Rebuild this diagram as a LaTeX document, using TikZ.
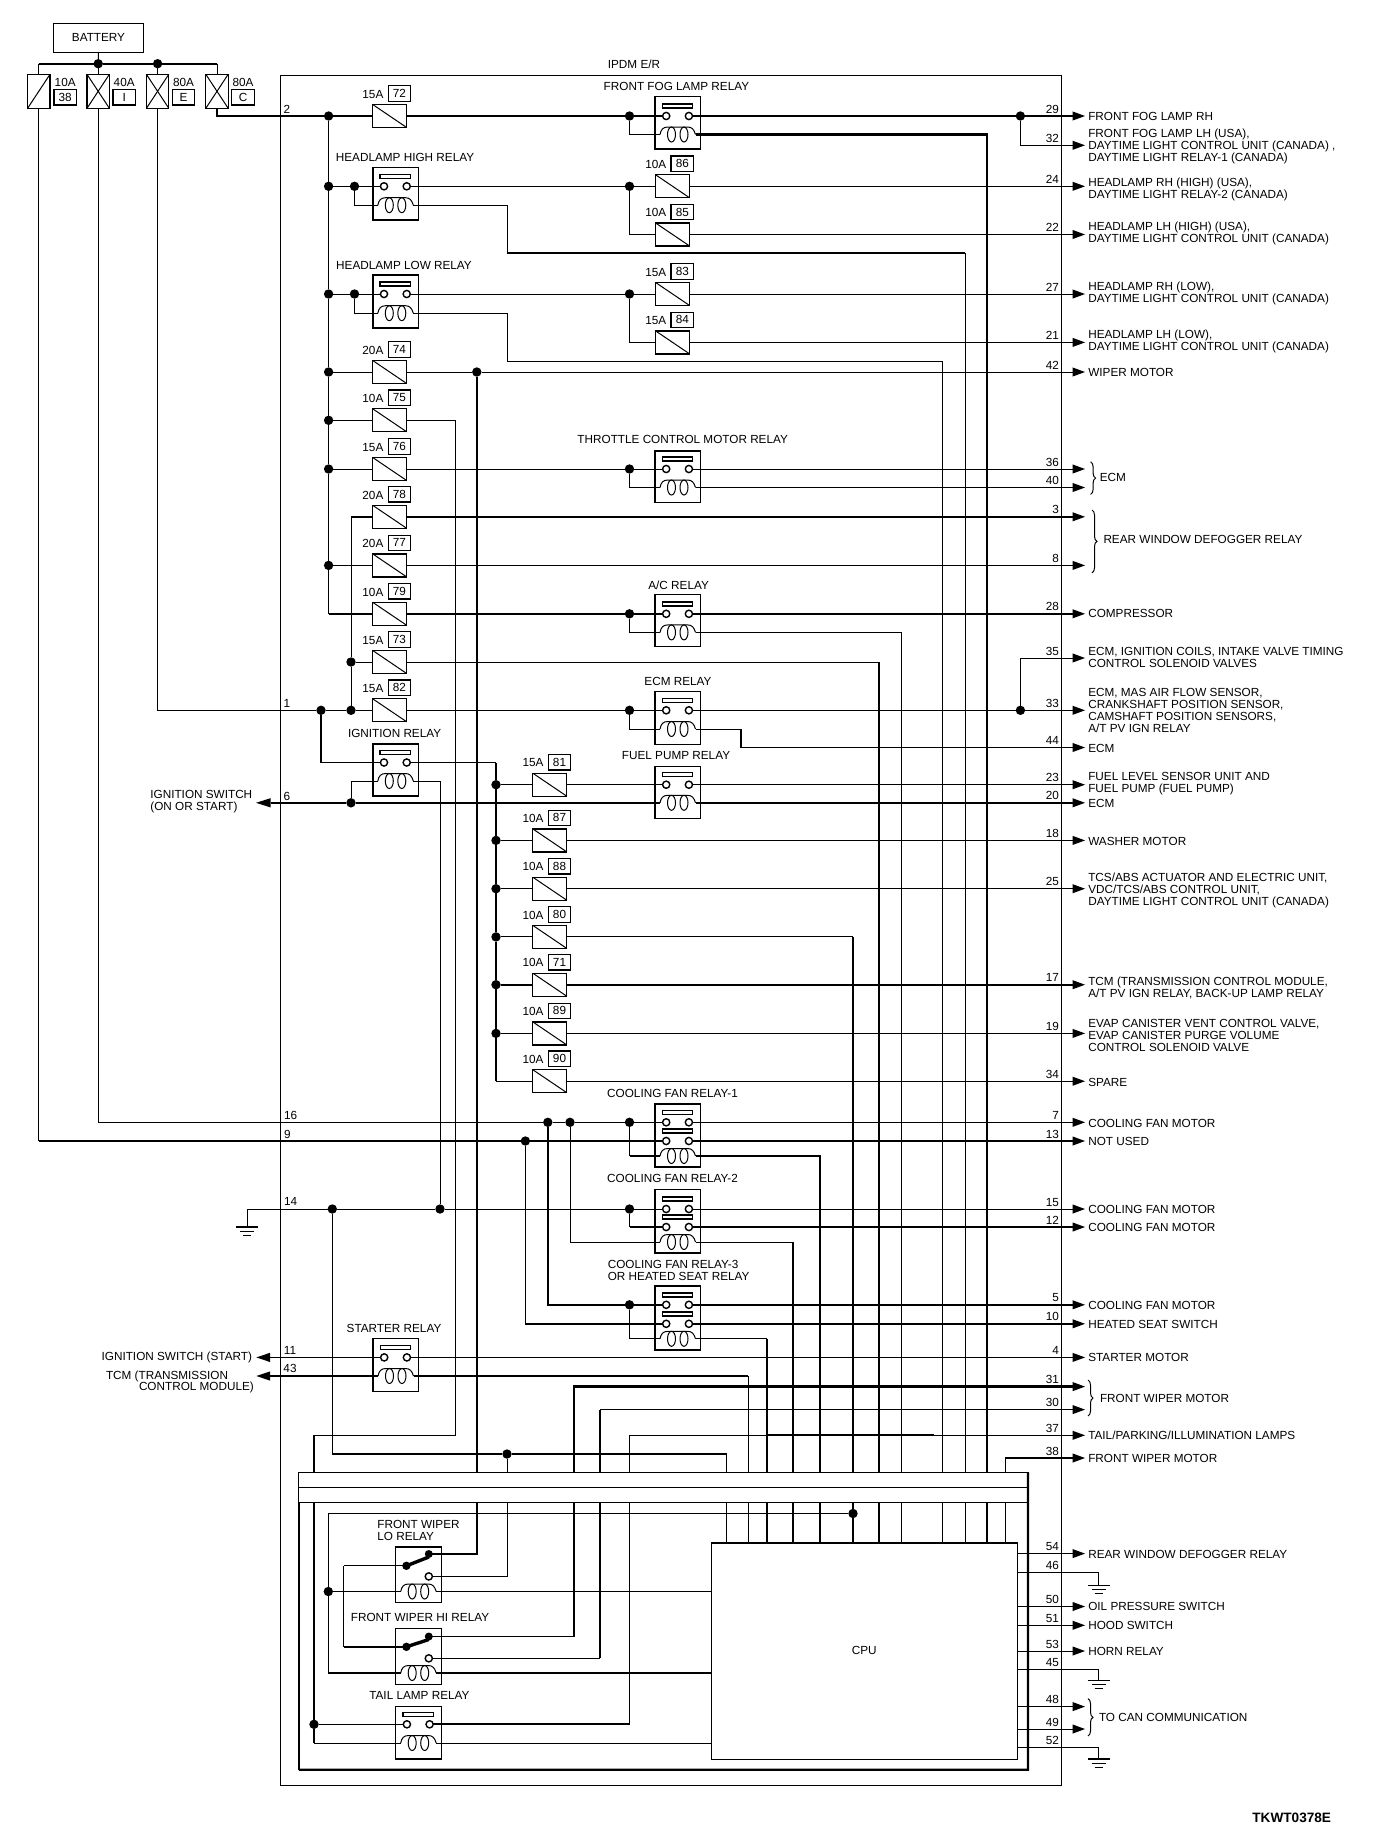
\documentclass[tikz,border=0pt]{standalone}
\usepackage{fontspec}
\setmainfont{Liberation Sans}
\usetikzlibrary{calc,decorations.pathreplacing}
\tikzset{
  thinw/.style={line width=1pt},
  medw/.style={line width=1.4pt},
  thickw/.style={line width=2.3pt},
  lab/.style={font=\fontsize{11.75}{12}\selectfont,inner sep=0,outer sep=0},
  ltext/.style={lab,align=left,anchor=west},
  jdot/.style={circle,fill=black,draw=none,minimum size=9.4pt,inner sep=0,outer sep=0},
  fusebox/.style={draw,line width=1.3pt,minimum width=34pt,minimum height=23pt,inner sep=0,outer sep=0},
  topfuse/.style={draw,line width=1.3pt,minimum width=22.4pt,minimum height=34pt,inner sep=0,outer sep=0},
  numbox/.style={draw,line width=1.3pt,minimum width=22.5pt,minimum height=15.5pt,inner sep=0,outer sep=0,font=\fontsize{11.75}{12}\selectfont},
  relaybox/.style={draw,medw,minimum width=45.5pt,inner sep=0,outer sep=0},
  bracew/.style={thinw,decorate,decoration={brace,amplitude=5pt}},
}
\newcommand\Txt[4]{\node[lab] (#1) at (#2,#3) {#4};}
\newcommand\Jn[3]{\node[jdot] (#1) at (#2,#3) {};}
\newcommand\Fuse[4]{% num,x,y,amp
  \node[fusebox] (f#1) at (#2,#3) {};
  \draw[thinw] (f#1.north west) -- (f#1.south east);
  \node[lab] (fa#1) at ({#2-16.8},{#3-21.8}) {#4};
  \node[numbox] (fn#1) at ({#2+9.7},{#3-22.5}) {#1};}
\newcommand\TopFuse[7]{% name,x,num,amp,crossed,labelx
  \node[topfuse] (#1) at (#2,91.3) {};
  \draw[thinw] (#1.south west) -- (#1.north east);
  #5
  \node[lab] (#1a) at (#6,82.6) {#4};
  \node[numbox] (#1n) at (#6,97.1) {#3};}
\newcommand\RelayBox[4]{\node[relaybox,minimum height={#4-#3}] (#1) at ({#2+22.75},{(#3+#4)/2}) {};}
\newcommand\RelayCoil[3]{%
  \begin{scope}[shift={(#2,#3)}]
    \draw[thinw] (5,0) .. controls (6,-5) and (8,-7.5) .. (13,-7.5) -- (32.5,-7.5) .. controls (37,-7.5) and (39,-5) .. (40.5,0);
    \draw[thinw] (16.5,0) ellipse [x radius=4,y radius=7.5];
    \draw[thinw] (29,0) ellipse [x radius=4,y radius=7.5];
  \end{scope}
  \coordinate (#1-l) at ({#2+5},#3);
  \coordinate (#1-r) at ({#2+40.5},#3);}
\newcommand\RelayContact[4]{%
  \draw[medw] ({#3+7.2},{#4-12}) rectangle ({#3+37.5},{#4-8});
  \draw[medw] ({#3+11.2},#4) circle [radius=3.6];
  \draw[medw] ({#3+33.9},#4) circle [radius=3.6];
  \coordinate (#1) at ({#3+7.6},#4);
  \coordinate (#2) at ({#3+37.5},#4);}
% name,left,top,bottom,contact,coil
\newcommand\Relay[6]{\RelayBox{#1}{#2}{#3}{#4}\RelayContact{#1-a}{#1-b}{#2}{#5}\RelayCoil{#1}{#2}{#6}}
% name,left,top,bottom,contact1,contact2,coil
\newcommand\RelayTwo[7]{\RelayBox{#1}{#2}{#3}{#4}\RelayContact{#1-a}{#1-b}{#2}{#5}\RelayContact{#1-c}{#1-d}{#2}{#6}\RelayCoil{#1}{#2}{#7}}
% name,top,bottom,coil,upper,pivot,lower
\newcommand\SwitchRelay[7]{\RelayBox{#1}{395.7}{#2}{#3}
  \RelayCoil{#1}{395.7}{#4}
  \draw[line width=3.4pt] (406.4,#6) -- (428.8,{#5+3});
  \fill (428.8,#5) circle [radius=4];
  \fill (406.4,#6) circle [radius=4.2];
  \draw[medw] (428.8,#7) circle [radius=3.6];
  \coordinate (#1-u) at (428.8,#5);
  \coordinate (#1-s) at (406.4,#6);
  \coordinate (#1-v) at (432.4,#7);}
% number,y,text y,text
\newcommand\PinNo[2]{\node[lab,anchor=east] (n#1) at (1059,{#2-7}) {#1};}
\newcommand\Pin[4]{%
  \coordinate (p#1) at (1072.5,#2);
  \PinNo{#1}{#2}
  \fill (1072.5,{#2-4.6}) -- (1085,#2) -- (1072.5,{#2+4.6}) -- cycle;
  \node[ltext] (t#1) at (1088.3,#3) {#4};}
\newcommand\Gnd[3]{%
  \coordinate (#1) at (#2,#3);
  \draw[medw] ({#2-11},#3) -- ({#2+11},#3);
  \draw[thinw] ({#2-7},{#3+4}) -- ({#2+7},{#3+4});
  \draw[thinw] ({#2-4},{#3+8}) -- ({#2+4},{#3+8});}
\newcommand\Vrt[2]{%
  \coordinate (#1-t) at (#2,1472.3);
  \coordinate (#1-b) at (#2,1502.3);
  \coordinate (#1-c) at (#2,1542.8);}
\begin{document}
\begin{tikzpicture}[x=1pt,y=-1pt]
\useasboundingbox (0,0) rectangle (1376,1848);
\fill[white] (0,0) rectangle (1376,1848);
% frames
\node[draw,thinw,minimum width=780.9pt,minimum height=1710pt,inner sep=0,outer sep=0] (ipdm) at (670.85,930) {};
\Txt{tipdm}{634}{64}{IPDM E/R}
\node[draw,thinw,minimum width=89.7pt,minimum height=29pt,inner sep=0,outer sep=0,lab] (bat) at (98.5,37.5) {BATTERY};
% top fuses
\TopFuse{fA}{38.8}{38}{10A}{}{65.2}{}
\TopFuse{fB}{98.2}{I}{40A}{\draw[thinw] (fB.north west) -- (fB.south east);}{124.2}{}
\TopFuse{fC}{157.6}{E}{80A}{\draw[thinw] (fC.north west) -- (fC.south east);}{183.5}{}
\TopFuse{fD}{217}{C}{80A}{\draw[thinw] (fD.north west) -- (fD.south east);}{243}{}
\Jn{jB1}{98.2}{63.7}
\Jn{jB2}{157.6}{63.7}
\coordinate (busL) at (38.8,63.7);
\coordinate (busR) at (217,63.7);
\draw[thickw] (busL) -- (jB1) -- (jB2) -- (busR);
\draw[thinw] (bat.south) -- (jB1);
\draw[thinw] (busL) -- (fA.north);
\draw[thinw] (jB1) -- (fB.north);
\draw[thinw] (jB2) -- (fC.north);
\draw[thinw] (busR) -- (fD.north);
% side labels
\Txt{l2}{287}{109}{2}
\Txt{l1}{287}{703.6}{1}
\Txt{l6}{287}{796.5}{6}
\Txt{l16}{290.6}{1115.6}{16}
\Txt{l9}{287.5}{1134}{9}
\Txt{l14}{290.6}{1201.4}{14}
\Txt{l11}{290}{1350.6}{11}
\Txt{l43}{290}{1368.8}{43}
% fuses
\Fuse{72}{389.7}{116}{15A}
\Fuse{74}{389.7}{372}{20A}
\Fuse{75}{389.7}{420.3}{10A}
\Fuse{76}{389.7}{469}{15A}
\Fuse{78}{389.7}{516.8}{20A}
\Fuse{77}{389.7}{565.4}{20A}
\Fuse{79}{389.7}{613.8}{10A}
\Fuse{73}{389.7}{662}{15A}
\Fuse{82}{389.7}{710.3}{15A}
\Fuse{86}{672.6}{186.3}{10A}
\Fuse{85}{672.6}{234.5}{10A}
\Fuse{83}{672.6}{294}{15A}
\Fuse{84}{672.6}{342.4}{15A}
\Fuse{81}{549.8}{784.7}{15A}
\Fuse{87}{549.8}{840.4}{10A}
\Fuse{88}{549.8}{888.7}{10A}
\Fuse{80}{549.8}{936.9}{10A}
\Fuse{71}{549.8}{984.7}{10A}
\Fuse{89}{549.8}{1033.4}{10A}
\Fuse{90}{549.8}{1081.2}{10A}
% relays
\Relay{rFog}{655}{96.6}{149}{116}{134.5}
\Txt{tFog}{676.4}{86.6}{FRONT FOG LAMP RELAY}
\Relay{rH}{372.8}{167.7}{219.8}{186.3}{205.2}
\Txt{tH}{405}{157}{HEADLAMP HIGH RELAY}
\Relay{rL}{372.8}{275}{327.8}{294}{313.2}
\Txt{tL}{404}{265}{HEADLAMP LOW RELAY}
\Relay{rTh}{655}{450.8}{502.6}{469}{487.5}
\Txt{tTh}{682.7}{439.7}{THROTTLE CONTROL MOTOR RELAY}
\Relay{rAC}{655}{594.3}{646.7}{613.8}{632.4}
\Txt{tAC}{678.6}{585}{A/C RELAY}
\Relay{rE}{655}{691.3}{744.3}{710.3}{729}
\Txt{tE}{678}{681}{ECM RELAY}
\Relay{rI}{372.8}{744}{796}{762.5}{781}
\Txt{tI}{394.6}{733.3}{IGNITION RELAY}
\Relay{rFP}{655}{766.5}{818.3}{784.7}{802.8}
\Txt{tFP}{676}{755.4}{FUEL PUMP RELAY}
\RelayTwo{rFa}{655}{1103.8}{1167}{1122.3}{1141}{1156}
\Txt{tFa}{672.5}{1093}{COOLING FAN RELAY-1}
\RelayTwo{rFb}{655}{1189.5}{1253}{1209}{1227}{1242}
\Txt{tFb}{672.5}{1178.9}{COOLING FAN RELAY-2}
\RelayTwo{rFc}{655}{1286}{1350}{1304.8}{1323.8}{1338.8}
\node[ltext] (tFc) at (607.8,1270.7) {COOLING FAN RELAY-3\\OR HEATED SEAT RELAY};
\Relay{rS}{373}{1338.4}{1391.4}{1357.4}{1376}
\Txt{tS}{394}{1328.5}{STARTER RELAY}
\SwitchRelay{rLO}{1546.8}{1602.5}{1591.5}{1554}{1565.8}{1576.4}
\node[ltext] (tLO) at (377.4,1530.7) {FRONT WIPER\\LO RELAY};
\SwitchRelay{rHI}{1628.2}{1684.4}{1673}{1636.5}{1646.8}{1658.3}
\Txt{tHI}{420}{1617.5}{FRONT WIPER HI RELAY}
\Relay{rT}{395.7}{1706.5}{1759}{1724.3}{1743}
\Txt{tT}{419.4}{1695}{TAIL LAMP RELAY}
% CPU
\node[draw,thinw,minimum width=305.5pt,minimum height=216.2pt,inner sep=0,outer sep=0,lab] (cpu) at (864.25,1650.9) {CPU};
\draw[thickw] (cpu.north west) -- (cpu.north east);
% bus bar
\node[draw,thinw,minimum width=729.2pt,minimum height=30pt,inner sep=0,outer sep=0] (bus) at (663.4,1487.3) {};
\draw[thinw] (bus.west) -- (bus.east);
\coordinate (enclL) at (298.8,1769.8);
\coordinate (enclR) at (1028,1769.8);
\draw[medw] (bus.south west) -- (enclL);
\draw[thickw] (enclL) -- (enclR) -- (bus.north east);
% right pins
\Pin{29}{116}{116.3}{FRONT FOG LAMP RH}
\Pin{32}{145.3}{146.9}{FRONT FOG LAMP LH (USA),\\DAYTIME LIGHT CONTROL UNIT (CANADA) ,\\DAYTIME LIGHT RELAY-1 (CANADA)}
\Pin{24}{186.3}{189}{HEADLAMP RH (HIGH) (USA),\\DAYTIME LIGHT RELAY-2 (CANADA)}
\Pin{22}{234.5}{233}{HEADLAMP LH (HIGH) (USA),\\DAYTIME LIGHT CONTROL UNIT (CANADA)}
\Pin{27}{294}{293}{HEADLAMP RH (LOW),\\DAYTIME LIGHT CONTROL UNIT (CANADA)}
\Pin{21}{342.4}{341.5}{HEADLAMP LH (LOW),\\DAYTIME LIGHT CONTROL UNIT (CANADA)}
\Pin{42}{372}{372.7}{WIPER MOTOR}
\Pin{36}{469}{}{}
\Pin{40}{487.5}{}{}
\Pin{3}{516.8}{}{}
\Pin{8}{565.4}{}{}
\Pin{28}{613.8}{613.8}{COMPRESSOR}
\Pin{35}{658}{657}{ECM, IGNITION COILS, INTAKE VALVE TIMING\\CONTROL SOLENOID VALVES}
\Pin{33}{710.3}{710}{ECM, MAS AIR FLOW SENSOR,\\CRANKSHAFT POSITION SENSOR,\\CAMSHAFT POSITION SENSORS,\\A/T PV IGN RELAY}
\Pin{44}{747.5}{748}{ECM}
\Pin{23}{784.7}{783.5}{FUEL LEVEL SENSOR UNIT AND\\FUEL PUMP (FUEL PUMP)}
\Pin{20}{802.8}{803.8}{ECM}
\Pin{18}{840.4}{841}{WASHER MOTOR}
\Pin{25}{888.7}{890}{TCS/ABS ACTUATOR AND ELECTRIC UNIT,\\VDC/TCS/ABS CONTROL UNIT,\\DAYTIME LIGHT CONTROL UNIT (CANADA)}
\Pin{17}{984.7}{987.7}{TCM (TRANSMISSION CONTROL MODULE,\\A/T PV IGN RELAY, BACK-UP LAMP RELAY}
\Pin{19}{1033.4}{1035}{EVAP CANISTER VENT CONTROL VALVE,\\EVAP CANISTER PURGE VOLUME\\CONTROL SOLENOID VALVE}
\Pin{34}{1081.2}{1082}{SPARE}
\Pin{7}{1122.3}{1123}{COOLING FAN MOTOR}
\Pin{13}{1141}{1141.3}{NOT USED}
\Pin{15}{1209}{1209}{COOLING FAN MOTOR}
\Pin{12}{1227}{1227.6}{COOLING FAN MOTOR}
\Pin{5}{1304.8}{1305.3}{COOLING FAN MOTOR}
\Pin{10}{1323.8}{1324.5}{HEATED SEAT SWITCH}
\Pin{4}{1357.4}{1357.8}{STARTER MOTOR}
\Pin{31}{1386.6}{}{}
\Pin{30}{1409.6}{}{}
\Pin{37}{1435.3}{1435.5}{TAIL/PARKING/ILLUMINATION LAMPS}
\Pin{38}{1458}{1458}{FRONT WIPER MOTOR}
\Pin{54}{1553.6}{1554.4}{REAR WINDOW DEFOGGER RELAY}
\Pin{50}{1606.5}{1606.5}{OIL PRESSURE SWITCH}
\Pin{51}{1625.3}{1625.3}{HOOD SWITCH}
\Pin{53}{1651}{1651}{HORN RELAY}
\Pin{48}{1706.6}{}{}
\Pin{49}{1729}{}{}
\PinNo{46}{1572.8}
\PinNo{45}{1669.3}
\PinNo{52}{1747.4}
% braces
\draw[bracew] (1090.6,461.8) -- (1090.6,494.4);
\node[ltext] (tECMb) at (1099.8,477) {ECM};
\draw[bracew] (1092,510) -- (1092,572.8);
\node[ltext] (tRW) at (1103.5,539.5) {REAR WINDOW DEFOGGER RELAY};
\draw[bracew] (1088,1380) -- (1088,1416);
\node[ltext] (tFW) at (1100,1398.6) {FRONT WIPER MOTOR};
\draw[bracew] (1088,1698.6) -- (1088,1736);
\node[ltext] (tCAN) at (1099,1717.8) {TO CAN COMMUNICATION};
% left labels
\coordinate (L6) at (270.5,802.8);
\fill (256,802.8) -- (270.5,798.2) -- (270.5,807.4) -- cycle;
\node[ltext] (tIGN) at (150.4,802) {IGNITION SWITCH\\(ON OR START)};
\coordinate (L11) at (270,1357.4);
\fill (256.4,1357.4) -- (270,1352.8) -- (270,1362) -- cycle;
\node[lab,anchor=east] (tIGS) at (252,1357.8) {IGNITION SWITCH (START)};
\coordinate (L43) at (270,1376);
\fill (256.4,1376) -- (270,1371.4) -- (270,1380.6) -- cycle;
\node[ltext] (tTCM1) at (106,1376.4) {TCM (TRANSMISSION};
\node[ltext] (tTCM2) at (139,1387.8) {CONTROL MODULE)};
\node[lab,anchor=east,font=\bfseries\fontsize{13.6}{14}\selectfont] (code) at (1331,1817.5) {TKWT0378E};
% junctions
\Jn{a1}{328.6}{116}\Jn{a2}{328.6}{186.3}\Jn{a3}{328.6}{294}\Jn{a4}{328.6}{372}
\Jn{a5}{328.6}{420.3}\Jn{a6}{328.6}{469}\Jn{a7}{328.6}{565.4}
\coordinate (a8) at (328.6,613.8);
\Jn{b1}{354.5}{186.3}\Jn{b2}{354.5}{294}
\Jn{c1}{629.5}{116}\Jn{c2}{629.5}{186.3}\Jn{c3}{629.5}{294}\Jn{c4}{629.5}{469}
\Jn{c5}{629.5}{613.8}\Jn{c6}{629.5}{710.3}\Jn{c7}{629.5}{1122.3}\Jn{c8}{629.5}{1209}\Jn{c9}{629.5}{1304.8}
\Jn{d74}{476.8}{372}
\Jn{e1}{1020.4}{116}\Jn{e2}{1020.4}{710.3}
\Jn{g0}{321}{710.3}\Jn{g1}{351}{662}\Jn{g2}{351}{710.3}\Jn{g3}{351}{802.8}
\Jn{h1}{496}{784.7}\Jn{h2}{496}{840.4}\Jn{h3}{496}{888.7}\Jn{h4}{496}{936.9}\Jn{h5}{496}{984.7}\Jn{h6}{496}{1033.4}
\Jn{k1}{547.8}{1122.3}\Jn{k2}{570}{1122.3}\Jn{k3}{525.4}{1141}
\Jn{m1}{332.3}{1209}\Jn{m2}{440}{1209}
\Jn{n1}{507}{1454}
\Jn{q1}{853}{1513.5}\Jn{q2}{328.3}{1591.5}\Jn{q3}{314}{1724.3}
% bus through-lines
\Vrt{V727}{726.6}\Vrt{V748}{748.4}\Vrt{V767}{767}\Vrt{V793}{793}\Vrt{V820}{820.3}\Vrt{V853}{853}
\Vrt{V879}{879.3}\Vrt{V902}{901.5}\Vrt{V942}{942.3}\Vrt{V965}{965}\Vrt{V987}{986.7}\Vrt{V1005}{1005.3}
\Vrt{U314}{314}\Vrt{U477}{476.8}\Vrt{U507}{507}\Vrt{U574}{574.3}\Vrt{U600}{600}\Vrt{U630}{629.6}
\foreach \v in {V727,V748,V902,V942,V965,V1005}{\draw[thinw] (\v-b) -- (\v-c);}
\foreach \v in {V767,V793,V820,V853,V879,V987}{\draw[thickw] (\v-b) -- (\v-c);}
% wires: input 2 and relay bank
\draw[thickw] (fD.south) |- (a1) -- (f72.west);
\draw[thickw] (f72.east) -- (c1) -- (rFog-a);
\draw[thickw] (rFog-b) -- (e1) -- (p29);
\draw[thinw] (e1) |- (p32);
\draw[thinw] (c1) |- (rFog-l);
\draw[thickw] (rFog-r) -| (V987-t);
\draw[medw] (a1) -- (a2) -- (a3) -- (a4) -- (a5) -- (a6) -- (a7) -- (a8);
\draw[thickw] (a8) -- (f79.west);
\draw[thinw] (a2) -- (b1) -- (rH-a);
\draw[thinw] (b1) |- (rH-l);
\draw[thinw] (rH-b) -- (c2) -- (f86.west);
\draw[thinw] (c2) |- (f85.west);
\draw[thinw] (f86.east) -- (p24);
\draw[thinw] (f85.east) -- (p22);
\coordinate (xa) at (507,252.8);
\coordinate (xb) at (965,252.8);
\draw[thinw] (rH-r) -| (xa);
\draw[thickw] (xa) -- (xb);
\draw[thinw] (xb) -- (V965-t);
\draw[thinw] (a3) -- (b2) -- (rL-a);
\draw[thinw] (b2) |- (rL-l);
\draw[thinw] (rL-b) -- (c3) -- (f83.west);
\draw[thinw] (c3) |- (f84.west);
\draw[thinw] (f83.east) -- (p27);
\draw[thinw] (f84.east) -- (p21);
\coordinate (xc) at (507,361);
\draw[thinw] (rL-r) -| (xc) -| (V942-t);
\draw[thinw] (a4) -- (f74.west);
\draw[thinw] (f74.east) -- (d74) -- (p42);
\draw[thickw] (d74) -- (U477-t);
\draw[thickw] (U477-b) |- (rLO-u);
\draw[thinw] (a5) -- (f75.west);
\coordinate (s1) at (455,1435.3);
\coordinate (s2) at (314,1435.3);
\draw[thinw] (f75.east) -| (s1) -- (s2);
\draw[thickw] (s2) -- (U314-t);
\coordinate (s2e) at (314,1743);
\draw[thickw] (U314-b) -- (q3) -- (s2e);
\draw[thinw] (q3) -- (rT-a);
\draw[thinw] (s2e) -- (rT-l);
\draw[thinw] (a6) -- (f76.west);
\draw[thinw] (f76.east) -- (c4) -- (rTh-a);
\draw[thinw] (c4) |- (rTh-l);
\draw[thinw] (rTh-b) -- (p36);
\draw[thinw] (rTh-r) -- (p40);
\coordinate (g00) at (351,516.8);
\draw[thickw] (g00) -- (f78.west);
\draw[thinw] (g00) -- (g1) -- (g2);
\draw[thinw] (g1) -- (f73.west);
\draw[thinw] (g2) -- (f82.west);
\draw[thickw] (f78.east) -- (p3);
\draw[thinw] (a7) -- (f77.west);
\draw[thinw] (f77.east) -- (p8);
\draw[thickw] (f79.east) -- (c5) -- (rAC-a);
\draw[thinw] (c5) |- (rAC-l);
\draw[thickw] (rAC-b) -- (p28);
\draw[thinw] (rAC-r) -| (V902-t);
\coordinate (s3) at (879.3,662);
\draw[thinw] (f73.east) -- (s3);
\draw[thickw] (s3) -- (V879-t);
% input 1
\draw[thinw] (fC.south) |- (g0) -- (g2);
\draw[medw] (g0) |- (rI-a);
\draw[thinw] (f82.east) -- (c6) -- (rE-a);
\draw[thinw] (c6) |- (rE-l);
\draw[thinw] (rE-b) -- (e2) -- (p33);
\draw[thinw] (e2) |- (p35);
\coordinate (s4) at (740.8,729);
\coordinate (s5) at (740.8,747.5);
\draw[thinw] (rE-r) -- (s4);
\draw[thickw] (s4) -- (s5);
\draw[thinw] (s5) -- (p44);
% ignition feed
\coordinate (h00) at (496,762.5);
\coordinate (h0) at (496,1081.2);
\draw[thinw] (rI-b) -- (h00);
\draw[medw] (h00) -- (h1) -- (h2) -- (h3) -- (h4) -- (h5) -- (h6) -- (h0);
\draw[thinw] (h1) -- (f81.west);
\draw[thinw] (f81.east) -- (rFP-a);
\draw[thinw] (rFP-b) -- (p23);
\draw[thinw] (h2) -- (f87.west);
\draw[thinw] (f87.east) -- (p18);
\draw[thinw] (h3) -- (f88.west);
\draw[thinw] (f88.east) -- (p25);
\draw[thinw] (h4) -- (f80.west);
\coordinate (s6) at (853,936.9);
\draw[thinw] (f80.east) -- (s6);
\draw[thickw] (s6) -- (V853-t);
\draw[thickw] (h5) -- (f71.west);
\draw[thickw] (f71.east) -- (p17);
\draw[thinw] (h6) -- (f89.west);
\draw[thinw] (f89.east) -- (p19);
\draw[thinw] (h0) -- (f90.west);
\draw[thinw] (f90.east) -- (p34);
\coordinate (s7) at (351,781);
\draw[thinw] (rI-l) -- (s7) -- (g3);
\coordinate (s8) at (440,781);
\draw[thinw] (rI-r) -- (s8) -- (m2);
\draw[thickw] (L6) -- (g3) -- (rFP-l);
\draw[thickw] (rFP-r) -- (p20);
% cooling fans
\draw[thinw] (fB.south) |- (k1) -- (k2) -- (c7) -- (rFa-a);
\coordinate (c7d) at (629.5,1156);
\draw[thinw] (c7) -- (c7d);
\draw[thickw] (c7d) -- (rFa-l);
\draw[thinw] (rFa-b) -- (p7);
\draw[thickw] (rFa-d) -- (p13);
\draw[thickw] (rFa-r) -| (V820-t);
\coordinate (l9c) at (38.8,1141);
\draw[thinw] (fA.south) -- (l9c);
\draw[thickw] (l9c) -- (k3) -- (rFa-c);
\draw[thickw] (k1) |- (c9) -- (rFc-a);
\draw[thinw] (c9) |- (rFc-l);
\draw[thinw] (k2) |- (rFb-l);
\coordinate (k3d) at (525.4,1323.8);
\draw[thinw] (k3) -- (k3d);
\draw[thickw] (k3d) -- (rFc-c);
\draw[thickw] (rFc-b) -- (p5);
\draw[thickw] (rFc-d) -- (p10);
\coordinate (s9) at (767,1338.8);
\draw[thinw] (rFc-r) -- (s9);
\draw[thickw] (s9) -- (V767-t);
\draw[thinw] (rFb-b) -- (p15);
\draw[thickw] (rFb-d) -- (p12);
\coordinate (s10) at (793,1242);
\draw[thinw] (rFb-r) -- (s10);
\draw[thickw] (s10) -- (V793-t);
% ground 14
\coordinate (g14) at (247,1209);
\Gnd{gL}{247}{1227}
\draw[thinw] (gL) -- (g14) -- (m1) -- (m2) -- (c8) -- (rFb-a);
\coordinate (c8d) at (629.5,1227);
\draw[thinw] (c8) -- (c8d);
\draw[thickw] (c8d) -- (rFb-c);
\coordinate (m1d) at (332.3,1454);
\coordinate (n2) at (726.6,1454);
\draw[medw] (m1) -- (m1d);
\draw[thickw] (m1d) -- (n1) -- (n2);
\draw[thinw] (n2) -- (V727-t);
\draw[thinw] (n1) -- (U507-t);
\draw[thinw] (U507-b) |- (rLO-v);
% starter
\draw[thinw] (L11) -- (rS-a);
\draw[thinw] (rS-b) -- (p4);
\draw[thickw] (L43) -- (rS-l);
\coordinate (s11) at (748.4,1376);
\draw[thickw] (rS-r) -- (s11);
\draw[thinw] (s11) -- (V748-t);
% wiper outputs
\coordinate (w31) at (574.3,1386.6);
\draw[thickw] (p31) -- (w31) -- (U574-t);
\coordinate (w31b) at (574.3,1636.5);
\draw[thickw] (U574-b) -- (w31b);
\draw[thinw] (w31b) -- (rHI-u);
\coordinate (w30) at (600,1409.6);
\draw[thinw] (p30) -- (w30);
\draw[thickw] (w30) -- (U600-t);
\coordinate (w30b) at (600,1658.3);
\draw[thickw] (U600-b) -- (w30b);
\draw[medw] (w30b) -- (rHI-v);
\coordinate (w37) at (629.6,1435.3);
\draw[thinw] (p37) -- (w37) -- (U630-t);
\coordinate (w37a) at (767,1435.3);
\coordinate (w37e) at (934,1435.3);
\draw[line width=1.8pt] (w37a) -- (w37e);
\coordinate (w37b) at (629.6,1724.3);
\draw[thinw] (U630-b) -- (w37b);
\draw[thickw] (w37b) -- (rT-b);
\coordinate (w38) at (1005.3,1458);
\draw[thickw] (p38) -- (w38);
\draw[thinw] (w38) -- (V1005-t);
% CPU side
\coordinate (q0) at (328.3,1513.5);
\coordinate (q4) at (328.3,1673);
\draw[thinw] (q1) -- (q0);
\draw[medw] (q0) -- (q2) -- (q4);
\draw[thickw] (q4) -- (rHI-l);
\draw[thinw] (q2) -- (rLO-l);
\draw[thinw] (rLO-r) -- (rLO-r -| cpu.west);
\draw[thickw] (rHI-r) -- (rHI-r -| cpu.west);
\draw[thinw] (rT-r) -- (rT-r -| cpu.west);
\coordinate (y1) at (343.5,1565.8);
\coordinate (y2) at (343.5,1646.8);
\draw[thinw] (rLO-s) -- (y1);
\draw[medw] (y1) -- (y2);
\draw[thickw] (y2) -- (rHI-s);
\foreach \p in {54,50,51,53,48,49}{\draw[thinw] (p\p -| cpu.east) -- (p\p);}
\coordinate (r46) at (1098.6,1572.8);
\coordinate (r45) at (1098.6,1669.3);
\coordinate (r52) at (1098.6,1747.4);
\Gnd{gR46}{1098.6}{1585.6}
\Gnd{gR45}{1098.6}{1680.6}
\Gnd{gR52}{1098.6}{1759}
\draw[thinw] (r46 -| cpu.east) -- (r46) -- (gR46);
\draw[thinw] (r45 -| cpu.east) -- (r45) -- (gR45);
\draw[thinw] (r52 -| cpu.east) -- (r52) -- (gR52);
\end{tikzpicture}
\end{document}
